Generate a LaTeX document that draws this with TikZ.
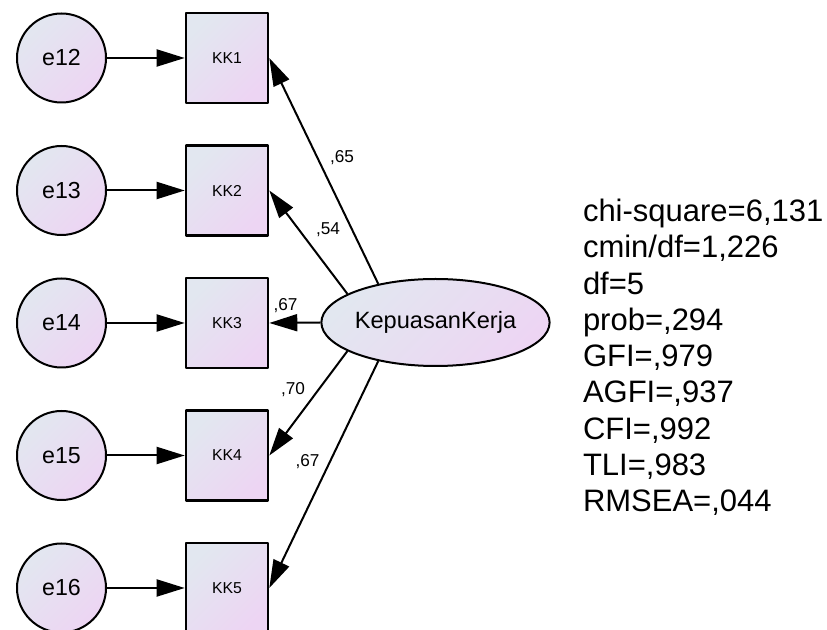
\documentclass[tikz,border=0pt]{standalone}
\usepackage{fontspec}
\setmainfont{Liberation Sans}
\usetikzlibrary{arrows.meta,shapes.geometric}
\definecolor{amostop}{RGB}{226,231,240}
\definecolor{amosbot}{RGB}{237,213,243}
\tikzset{amosfill/.style={top color=amostop,bottom color=amosbot,shading angle=45},
  errnode/.style={circle,draw,line width=1pt,amosfill,minimum size=44.5pt,inner sep=0pt,font=\fontsize{11.6}{13}\selectfont},
  obsbox/.style={rectangle,draw,line width=1.3pt,amosfill,minimum width=41pt,minimum height=45pt,inner sep=0pt,font=\fontsize{7.9}{9}\selectfont},
  latnode/.style={ellipse,draw,line width=1pt,amosfill,minimum width=106.5pt,minimum height=43.5pt,inner sep=0pt,font=\fontsize{11.8}{14}\selectfont},
  est/.style={inner sep=0pt,font=\fontsize{8.6}{10}\selectfont},
  fitline/.style={inner sep=0pt,anchor=base west,font=\fontsize{15.5}{18}\selectfont}}

\begin{document}
\begin{tikzpicture}[x=0.5pt,y=-0.5pt,>={Triangle[length=14pt,width=8.5pt]},line join=round,line width=1pt]
\useasboundingbox (0,0) rectangle (827,630);
\fill[white] (0,0) rectangle (827,630);
\clip (0,0) rectangle (827,630);
% --- indicators with their error terms
\foreach \i/\e/\y in {1/12/58,2/13/190.5,3/14/323,4/15/455.5,5/16/588} {
  \node[errnode] (e\i) at (61.5,\y) {e\e};
  \node[obsbox] (kk\i) at (227,\y) {KK\i};
  \draw[->] (e\i) -- (kk\i);
}
% --- latent factor and loadings
\node[latnode] (lat) at (435.5,322.5) {KepuasanKerja};
\foreach \i/\a in {1/146,2/162,3/180,4/198,5/214} \draw[->] (lat.\a) -- (kk\i.east);
\node[est] (w1) at (342,158) {,65};
\node[est] (w2) at (328,230) {,54};
\node[est] (w3) at (285.5,306) {,67};
\node[est] (w4) at (293,390) {,70};
\node[est] (w5) at (307.5,462) {,67};
% --- fit indices
\foreach \t [count=\k from 0] in {{chi-square=6,131},{cmin/df=1,226},{df=5},{prob=,294},{GFI=,979},{AGFI=,937},{CFI=,992},{TLI=,983},{RMSEA=,044}}
  \node[fitline] (fit\k) at (582,221.7+36.25*\k) {\t};
\end{tikzpicture}
\end{document}
